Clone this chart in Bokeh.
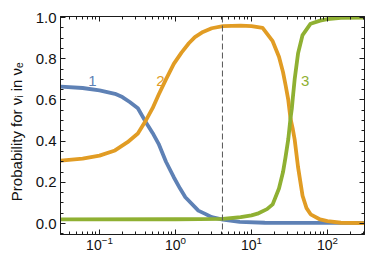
from bokeh.plotting import figure
from bokeh.models import (Range1d, FixedTicker, LinearAxis, LogTickFormatter,
                          NumeralTickFormatter, Span, CustomJSTickFormatter, ColumnDataSource)
from bokeh.embed import file_html
from bokeh.resources import INLINE
from bokeh.core.properties import value

# ---- data ----
E_blue = [0.031, 0.06, 0.1, 0.16, 0.2, 0.25, 0.32, 0.4, 0.5, 0.6, 0.75, 0.95, 1.15, 1.35, 2.0, 2.5, 3.0, 4.2, 7.0, 15, 40, 100, 307]
P_blue = [0.665, 0.658, 0.646, 0.63, 0.614, 0.59, 0.56, 0.497, 0.44, 0.387, 0.30, 0.225, 0.17, 0.128, 0.063, 0.046, 0.031, 0.019, 0.008, 0.004, 0.003, 0.003, 0.003]

E_orange = [0.031, 0.06, 0.1, 0.16, 0.234, 0.32, 0.4, 0.5, 0.6, 0.75, 0.95, 1.2, 1.5, 1.8, 2.3, 3.0, 4.2, 7.2, 10, 14, 19, 23, 26, 28,
            30.5, 32.6, 35, 37, 41, 47, 53, 60, 80, 100, 150, 307]
P_orange = [0.306, 0.315, 0.33, 0.355, 0.395, 0.437, 0.495, 0.56, 0.625, 0.70, 0.775, 0.83, 0.875, 0.905, 0.93, 0.948, 0.958, 0.961, 0.958, 0.95,
            0.885, 0.81, 0.735, 0.675, 0.6, 0.51, 0.458, 0.408, 0.274, 0.135, 0.075, 0.045, 0.02, 0.012, 0.004, 0.002]

E_green = [0.031, 1.0, 4.2, 7.2, 10, 12, 16, 19, 23, 26, 28, 30.5, 32.6, 34, 35, 37, 41, 47, 60, 80, 100, 150, 307]
P_green = [0.02, 0.021, 0.023, 0.031, 0.04, 0.048, 0.07, 0.093, 0.17, 0.25, 0.32, 0.41, 0.51, 0.56, 0.61, 0.70, 0.826,
           0.915, 0.97, 0.985, 0.992, 0.998, 1.0]

label_E = [0.081, 0.635, 51]
label_P = [0.69, 0.69, 0.69]
label_text = ["1", "2", "3"]

dashed_E = 4.15

x_major = [0.1, 1, 10, 100]
x_minor = [0.04, 0.05, 0.06, 0.07, 0.08, 0.09,
           0.2, 0.3, 0.4, 0.5, 0.6, 0.7, 0.8, 0.9,
           2, 3, 4, 5, 6, 7, 8, 9,
           20, 30, 40, 50, 60, 70, 80, 90,
           200, 300]
y_major = [0.0, 0.2, 0.4, 0.6, 0.8, 1.0]
y_minor = [-0.05, 0.05, 0.1, 0.15, 0.25, 0.3, 0.35, 0.45, 0.5, 0.55, 0.65, 0.7, 0.75, 0.85, 0.9, 0.95]

colors = ["#5E81B5", "#E19C24", "#8FB032"]
FONT = "Liberation Sans"

p = figure(width=366, height=253, x_axis_type="log",
           x_range=Range1d(0.0307, 307), y_range=Range1d(-0.053, 1.005),
           output_backend="svg", toolbar_location=None,
           min_border_left=60, min_border_right=2, min_border_top=16, min_border_bottom=19)
p.grid.visible = False
p.outline_line_color = "#1a1a1a"
p.background_fill_color = "white"
p.border_fill_color = "white"

p.line(E_blue, P_blue, line_color=colors[0], line_width=3.8, line_join="round")
p.line(E_orange, P_orange, line_color=colors[1], line_width=3.8, line_join="round")
p.line(E_green, P_green, line_color=colors[2], line_width=3.8, line_join="round")

p.add_layout(Span(location=dashed_E, dimension="height", line_color="#555555",
                  line_dash="6 3", line_width=1))

src = ColumnDataSource(dict(x=label_E, y=label_P, t=label_text, c=colors))
p.text(x="x", y="y", text="t", text_color="c", source=src, text_align="center",
       text_baseline="middle", text_font=value(FONT), text_font_size="15px")


def style(ax, fs="15px"):
    ax.major_tick_in = 5
    ax.major_tick_out = 0
    ax.minor_tick_in = 3
    ax.minor_tick_out = 0
    ax.axis_line_color = "#1a1a1a"
    ax.major_tick_line_color = "#1a1a1a"
    ax.minor_tick_line_color = "#1a1a1a"
    ax.major_label_text_font = FONT
    ax.major_label_text_font_size = fs
    ax.major_label_text_color = "#111111"


xa = p.xaxis[0]
xa.ticker = FixedTicker(ticks=x_major, minor_ticks=x_minor)
xa.formatter = LogTickFormatter()
style(xa, "14px")
xa.major_label_standoff = 1

ya = p.yaxis[0]
ya.ticker = FixedTicker(ticks=y_major, minor_ticks=y_minor)
ya.formatter = NumeralTickFormatter(format="0.0")
style(ya)
ya.major_label_standoff = 4
ya.axis_label = "Probability for  \u03bd\u1d62  in  \u03bd\u2091"
ya.axis_label_text_font = FONT
ya.axis_label_text_font_size = "15px"
ya.axis_label_text_font_style = "normal"
ya.axis_label_text_color = "#111111"
ya.axis_label_standoff = 8

empty = CustomJSTickFormatter(code="return ''")
top = LinearAxis(ticker=FixedTicker(ticks=x_major, minor_ticks=x_minor), formatter=empty)
style(top)
top.major_label_standoff = 0
p.add_layout(top, "above")

right = LinearAxis(ticker=FixedTicker(ticks=y_major, minor_ticks=y_minor), formatter=empty)
style(right)
right.major_label_standoff = 0
p.add_layout(right, "right")

open("out.html", "w").write(file_html(p, INLINE))
